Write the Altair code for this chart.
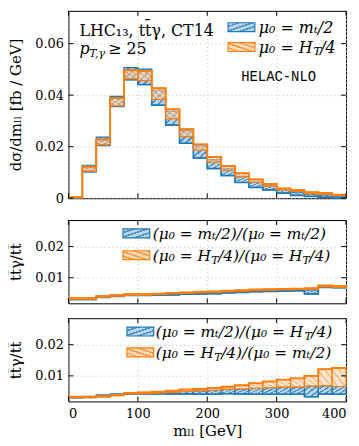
import altair as alt
import pandas as pd

# ---------------- data ----------------
edges = [0, 20, 40, 60, 80, 100, 120, 140, 160, 180, 200, 220, 240, 260, 280, 300, 320, 340, 360, 380, 400]

# top panel: d sigma / d m_ll  [fb/GeV], scale-variation bands
top_blue_lo = [0.0002, 0.0103, 0.0205, 0.0356, 0.0460, 0.0441, 0.0361, 0.0284, 0.0213, 0.0156,
               0.0115, 0.0088, 0.0061, 0.0042, 0.0032, 0.0020, 0.0011, 0.0007, 0.0004, 0.0001]
top_blue_hi = [0.0004, 0.0128, 0.0237, 0.0395, 0.0507, 0.0501, 0.0420, 0.0338, 0.0262, 0.0203,
               0.0150, 0.0115, 0.0085, 0.0063, 0.0048, 0.0033, 0.0025, 0.0017, 0.0013, 0.0008]
top_orange_lo = [0.0002, 0.0105, 0.0207, 0.0358, 0.0463, 0.0456, 0.0383, 0.0308, 0.0239, 0.0187,
                 0.0140, 0.0108, 0.0083, 0.0062, 0.0047, 0.0032, 0.0026, 0.0018, 0.0015, 0.0010]
top_orange_hi = [0.0004, 0.0122, 0.0228, 0.0389, 0.0497, 0.0494, 0.0427, 0.0345, 0.0268, 0.0209,
                 0.0160, 0.0125, 0.0097, 0.0073, 0.0055, 0.0038, 0.0032, 0.0023, 0.0020, 0.0014]

# middle panel: ratio with same scale
mid_blue_lo = [0.0030, 0.0030, 0.0037, 0.0040, 0.0043, 0.0043, 0.0044, 0.0045, 0.0047, 0.0048,
               0.0049, 0.0051, 0.0053, 0.0055, 0.0056, 0.0057, 0.0058, 0.0048, 0.0069, 0.0068]
mid_blue_hi = [0.0034, 0.0034, 0.0041, 0.0044, 0.0047, 0.0047, 0.0048, 0.0049, 0.0051, 0.0052,
               0.0053, 0.0055, 0.0057, 0.0059, 0.0060, 0.0061, 0.0062, 0.0061, 0.0073, 0.0072]
mid_orange_lo = [0.0031, 0.0031, 0.0038, 0.0041, 0.0044, 0.0044, 0.0046, 0.0048, 0.0050, 0.0052,
                 0.0053, 0.0055, 0.0057, 0.0059, 0.0060, 0.0061, 0.0062, 0.0063, 0.0071, 0.0069]
mid_orange_hi = [0.0034, 0.0034, 0.0041, 0.0044, 0.0047, 0.0047, 0.0049, 0.0051, 0.0053, 0.0055,
                 0.0056, 0.0058, 0.0060, 0.0062, 0.0063, 0.0064, 0.0065, 0.0066, 0.0075, 0.0073]

# bottom panel: ratio with crossed scales
bot_blue_lo = [0.0030, 0.0031, 0.0035, 0.0038, 0.0041, 0.0042, 0.0042, 0.0042, 0.0042, 0.0041,
               0.0041, 0.0043, 0.0042, 0.0041, 0.0041, 0.0041, 0.0041, 0.0033, 0.0042, 0.0041]
bot_blue_hi = [0.0033, 0.0034, 0.0039, 0.0042, 0.0045, 0.0046, 0.0047, 0.0049, 0.0050, 0.0052,
               0.0054, 0.0057, 0.0058, 0.0060, 0.0062, 0.0064, 0.0064, 0.0067, 0.0068, 0.0066]
bot_orange_lo = [0.0030, 0.0030, 0.0032, 0.0036, 0.0042, 0.0043, 0.0045, 0.0047, 0.0050, 0.0052,
                 0.0054, 0.0057, 0.0058, 0.0060, 0.0062, 0.0064, 0.0064, 0.0067, 0.0068, 0.0066]
bot_orange_hi = [0.0033, 0.0033, 0.0035, 0.0039, 0.0045, 0.0047, 0.0049, 0.0052, 0.0056, 0.0058,
                 0.0061, 0.0065, 0.0070, 0.0076, 0.0082, 0.0088, 0.0092, 0.0100, 0.0121, 0.0125]

x_tick_values = [0, 100, 200, 300, 400]
top_y_ticks = [0, 0.02, 0.04, 0.06]
ratio_y_ticks = [0.01, 0.02]

# ---------------- styling ----------------
SERIF = "DejaVu Serif"
MONO = "Liberation Mono"
BLUE = "#1f77b4"
ORANGE = "#ff7f0e"
W = 280
H_TOP, H_MID, H_BOT = 189, 84, 84
TOP_DOMAIN = [0, 0.0727]
RATIO_DOMAIN = [0.0018, 0.0285]
GRID = dict(grid=True, gridDash=[1, 3], gridColor="#bbbbbb", gridWidth=1)
AX_TXT = dict(labelFont=SERIF, labelFontSize=13, labelColor="black",
              titleFont=SERIF, titleFontSize=15, titleFontWeight="normal", titleColor="black")


def hatch(light, dark, forward, n=4):
    stops = []
    for i in range(n):
        a, b, c = i / n, (i + 0.65) / n, (i + 1) / n
        stops += [{"offset": a, "color": light}, {"offset": b, "color": light},
                  {"offset": b, "color": dark}, {"offset": c, "color": dark}]
    g = {"gradient": "linear", "stops": stops, "x1": 0, "x2": 1}
    if forward:
        g.update(y1=0, y2=1)
    else:
        g.update(y1=1, y2=0)
    return g


BLUE_FILL = hatch("#b7d4ea", "#4f93c6", True)
ORANGE_FILL = hatch("#ffd8b5", "#ff9a45", False)

xs = alt.Scale(domain=[0, 400], nice=False, zero=False)


def band_df(lo, hi):
    return pd.DataFrame({"x0": edges[:-1], "x1": edges[1:], "lo": lo, "hi": hi})


def step_df(vals):
    return pd.DataFrame({"x0": edges, "lo": list(vals) + [vals[-1]]})


def panel(bands, yvals, ys, h, xaxis, yaxis, extras):
    layers = []
    X = alt.X("x0:Q", scale=xs, axis=xaxis)
    Y = alt.Y("lo:Q", scale=ys, axis=yaxis)
    for lo, hi, fill, color, op, line_vals, lw in bands:
        layers.append(alt.Chart(band_df(lo, hi)).mark_rect(
            fill=fill, stroke=color, strokeWidth=1.2, fillOpacity=op
        ).encode(x=X, x2="x1:Q", y=Y, y2="hi:Q"))
        layers.append(alt.Chart(step_df(line_vals)).mark_line(
            interpolate="step-after", color=color, strokeWidth=lw
        ).encode(x=X, y=Y))
    # inward ticks on all four sides
    xd = pd.DataFrame({"x0": x_tick_values})
    yd = pd.DataFrame({"lo": yvals})
    bx = alt.Chart(xd).mark_rule(color="black", strokeWidth=1)
    by = alt.Chart(yd).mark_rule(color="black", strokeWidth=1)
    layers += [
        bx.encode(x=X, y=alt.value(h), y2=alt.value(h - 5)),
        bx.encode(x=X, y=alt.value(0), y2=alt.value(5)),
        by.encode(y=Y, x=alt.value(0), x2=alt.value(5)),
        by.encode(y=Y, x=alt.value(W), x2=alt.value(W - 5)),
    ]
    return alt.layer(*layers, *extras).properties(width=W, height=h)


def label(text, x, y, size=15.5, style="italic", font=SERIF, align="left", baseline="alphabetic"):
    return alt.Chart(pd.DataFrame({"t": [text]})).mark_text(
        align=align, baseline=baseline, font=font, fontSize=size, fontStyle=style, color="black"
    ).encode(text="t:N", x=alt.value(x), y=alt.value(y))


def patch(fill, stroke, x, y, w=27, h=9):
    return alt.Chart(pd.DataFrame({"a": [0]})).mark_rect(
        fill=fill, stroke=stroke, strokeWidth=1.2
    ).encode(x=alt.value(x), x2=alt.value(x + w), y=alt.value(y), y2=alt.value(y + h))


def yaxis(values, title, fmt):
    return alt.Axis(values=values, labelExpr=fmt, ticks=False, domain=False, labelPadding=5,
                    title=title, titlePadding=5, minExtent=40, maxExtent=40, **GRID, **AX_TXT)


x_hidden = alt.Axis(values=x_tick_values, labels=False, ticks=False, domain=False, title=None,
                    **GRID, **AX_TXT)
x_bottom = alt.Axis(values=x_tick_values, ticks=False, domain=False, labelPadding=6,
                    title="mₗₗ [GeV]", titlePadding=3, format="d", **GRID, **AX_TXT)

fmt_top = "datum.value == 0 ? '0' : format(datum.value, '.2f')"
fmt_r = "format(datum.value, '.2f')"
ys_top = alt.Scale(domain=TOP_DOMAIN, nice=False, zero=False)
ys_r = alt.Scale(domain=RATIO_DOMAIN, nice=False, zero=False)

# ---------------- top panel ----------------
top = panel(
    [(top_blue_lo, top_blue_hi, BLUE_FILL, BLUE, 1.0, top_blue_lo, 1.5),
     (top_orange_lo, top_orange_hi, ORANGE_FILL, ORANGE, 0.6, top_orange_hi, 2)],
    top_y_ticks, ys_top, H_TOP, x_hidden, yaxis(top_y_ticks, "dσ/dmₗₗ [fb / GeV]", fmt_top),
    [
        label("LHC₁₃, tt̄γ, CT14", 11, 25, size=16, style="normal"),
        label("p", 11, 44, size=16),
        label("T,γ", 21, 47, size=11),
        label("≥ 25", 40, 44, size=16, style="normal"),
        patch(BLUE_FILL, BLUE, 161, 12),
        label("μ₀ = mₜ/2", 192, 22, size=16),
        patch(ORANGE_FILL, ORANGE, 161, 32),
        label("μ₀ = H", 192, 42, size=16),
        label("T", 247, 45, size=12),
        label("/4", 254, 42, size=16),
        label("HELAC-NLO", 212, 67, size=14, style="normal", font=MONO, align="center",
              baseline="middle"),
    ],
)

# ---------------- middle panel ----------------
mid = panel(
    [(mid_blue_lo, mid_blue_hi, BLUE_FILL, BLUE, 1.0, mid_blue_lo, 1.5),
     (mid_orange_lo, mid_orange_hi, ORANGE_FILL, ORANGE, 0.6, mid_orange_hi, 2)],
    ratio_y_ticks, ys_r, H_MID, x_hidden, yaxis(ratio_y_ticks, "tt̄γ/tt̄", fmt_r),
    [
        patch(BLUE_FILL, BLUE, 55, 9),
        label("(μ₀ = mₜ/2)/(μ₀ = mₜ/2)", 85, 19),
        patch(ORANGE_FILL, ORANGE, 55, 31),
        label("(μ₀ = H", 85, 41),
        label("T", 144, 44, size=11),
        label("/4)/(μ₀ = H", 151, 41),
        label("T", 236, 44, size=11),
        label("/4)", 243, 41),
    ],
)

# ---------------- bottom panel ----------------
bot = panel(
    [(bot_blue_lo, bot_blue_hi, BLUE_FILL, BLUE, 1.0, bot_blue_lo, 1.5),
     (bot_orange_lo, bot_orange_hi, ORANGE_FILL, ORANGE, 0.6, bot_orange_hi, 2)],
    ratio_y_ticks, ys_r, H_BOT, x_bottom, yaxis(ratio_y_ticks, "tt̄γ/tt̄", fmt_r),
    [
        patch(BLUE_FILL, BLUE, 59, 9),
        label("(μ₀ = mₜ/2)/(μ₀ = H", 88, 19),
        label("T", 238, 22, size=11),
        label("/4)", 245, 19),
        patch(ORANGE_FILL, ORANGE, 59, 30),
        label("(μ₀ = H", 88, 40),
        label("T", 147, 43, size=11),
        label("/4)/(μ₀ = mₜ/2)", 154, 40),
    ],
)

chart = alt.vconcat(top, mid, bot, spacing=13).resolve_scale(
    x="independent", y="independent"
).properties(padding=0).configure_view(
    stroke="black", strokeWidth=1
).configure_axis(**AX_TXT)

chart.save("out.html", embed_options={"renderer": "svg", "actions": False})
